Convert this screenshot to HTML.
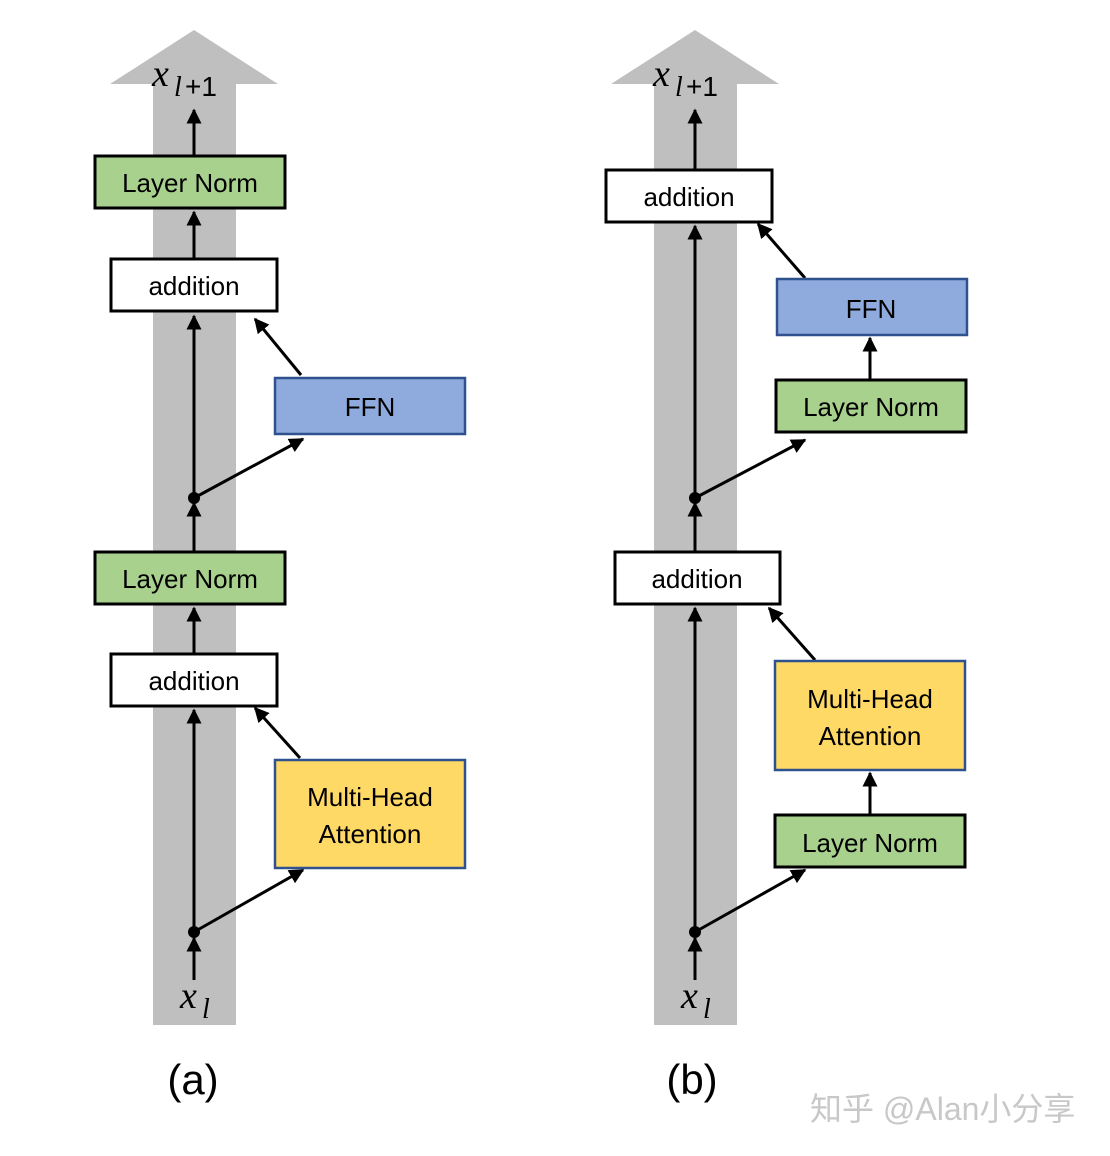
<!DOCTYPE html>
<html><head><meta charset="utf-8"><style>
html,body{margin:0;padding:0;background:#fff;}
svg{display:block;}
text{font-family:"Liberation Sans","Noto Sans CJK SC",sans-serif;}
.m{font-family:"Liberation Serif","DejaVu Serif",serif;font-style:italic;}
</style></head><body>
<svg width="1110" height="1156" viewBox="0 0 1110 1156" xmlns="http://www.w3.org/2000/svg">
<defs>
<marker id="ah" viewBox="0 0 10 10" refX="9" refY="5" markerWidth="5" markerHeight="5" markerUnits="strokeWidth" orient="auto">
<path d="M0,0 L10,5 L0,10 z" fill="#000"/></marker>
</defs>
<!-- panel a background arrow -->
<rect x="153" y="83" width="83" height="942" fill="#bfbfbf"/>
<polygon points="194,30 278,84 110,84" fill="#bfbfbf"/>
<!-- panel b -->
<rect x="654" y="83" width="83" height="942" fill="#bfbfbf"/>
<polygon points="695,30 779,84 611,84" fill="#bfbfbf"/>

<g stroke="#000" stroke-width="3" fill="none" marker-end="url(#ah)">
<!-- a -->
<line x1="194" y1="980" x2="194" y2="938"/>
<line x1="194" y1="932" x2="194" y2="710"/>
<line x1="194" y1="932" x2="303" y2="870"/>
<line x1="300" y1="758" x2="255" y2="708"/>
<line x1="194" y1="654" x2="194" y2="608"/>
<line x1="194" y1="552" x2="194" y2="503"/>
<line x1="194" y1="498" x2="194" y2="316"/>
<line x1="194" y1="498" x2="303" y2="439"/>
<line x1="301" y1="375" x2="255" y2="319"/>
<line x1="194" y1="258" x2="194" y2="212"/>
<line x1="194" y1="155" x2="194" y2="110"/>
<!-- b -->
<line x1="695" y1="980" x2="695" y2="938"/>
<line x1="695" y1="932" x2="695" y2="608"/>
<line x1="695" y1="932" x2="805" y2="870"/>
<line x1="870" y1="815" x2="870" y2="773"/>
<line x1="815" y1="660" x2="769" y2="608"/>
<line x1="695" y1="552" x2="695" y2="503"/>
<line x1="695" y1="498" x2="695" y2="226"/>
<line x1="695" y1="498" x2="805" y2="440"/>
<line x1="870" y1="380" x2="870" y2="338"/>
<line x1="805" y1="278" x2="758" y2="224"/>
<line x1="695" y1="170" x2="695" y2="110"/>
</g>
<circle cx="194" cy="932" r="6" fill="#000"/>
<circle cx="194" cy="498" r="6" fill="#000"/>
<circle cx="695" cy="932" r="6" fill="#000"/>
<circle cx="695" cy="498" r="6" fill="#000"/>

<!-- boxes a -->
<g font-size="26" text-anchor="middle" fill="#000">
<rect x="95" y="156" width="190" height="52" fill="#a9d18e" stroke="#000" stroke-width="3"/>
<text x="190" y="192">Layer Norm</text>
<rect x="111" y="259" width="166" height="52" fill="#fff" stroke="#000" stroke-width="3"/>
<text x="194" y="295">addition</text>
<rect x="275" y="378" width="190" height="56" fill="#8faadc" stroke="#2f528f" stroke-width="2.5"/>
<text x="370" y="416">FFN</text>
<rect x="95" y="552" width="190" height="52" fill="#a9d18e" stroke="#000" stroke-width="3"/>
<text x="190" y="588">Layer Norm</text>
<rect x="111" y="654" width="166" height="52" fill="#fff" stroke="#000" stroke-width="3"/>
<text x="194" y="690">addition</text>
<rect x="275" y="760" width="190" height="108" fill="#ffd966" stroke="#2f528f" stroke-width="2.5"/>
<text x="370" y="806">Multi-Head</text>
<text x="370" y="843">Attention</text>

<!-- boxes b -->
<rect x="606" y="170" width="166" height="52" fill="#fff" stroke="#000" stroke-width="3"/>
<text x="689" y="206">addition</text>
<rect x="777" y="279" width="190" height="56" fill="#8faadc" stroke="#2f528f" stroke-width="2.5"/>
<text x="871" y="318">FFN</text>
<rect x="776" y="380" width="190" height="52" fill="#a9d18e" stroke="#000" stroke-width="3"/>
<text x="871" y="416">Layer Norm</text>
<rect x="615" y="552" width="165" height="52" fill="#fff" stroke="#000" stroke-width="3"/>
<text x="697" y="588">addition</text>
<rect x="775" y="661" width="190" height="109" fill="#ffd966" stroke="#2f528f" stroke-width="2.5"/>
<text x="870" y="708">Multi-Head</text>
<text x="870" y="745">Attention</text>
<rect x="775" y="815" width="190" height="52" fill="#a9d18e" stroke="#000" stroke-width="3"/>
<text x="870" y="852">Layer Norm</text>
</g>

<!-- math labels -->
<text class="m" x="152" y="86" font-size="38">x</text>
<text class="m" x="174" y="96" font-size="28">l</text>
<text x="185" y="96" font-size="28" font-family="Liberation Serif,serif">+1</text>
<text class="m" x="653" y="86" font-size="38">x</text>
<text class="m" x="675" y="96" font-size="28">l</text>
<text x="686" y="96" font-size="28" font-family="Liberation Serif,serif">+1</text>
<text class="m" x="180" y="1008" font-size="38">x</text>
<text class="m" x="202" y="1018" font-size="28">l</text>
<text class="m" x="681" y="1008" font-size="38">x</text>
<text class="m" x="703" y="1018" font-size="28">l</text>

<text x="193" y="1094" font-size="42" text-anchor="middle">(a)</text>
<text x="692" y="1094" font-size="42" text-anchor="middle">(b)</text>
<text x="810" y="1120" font-size="32" fill="#c8c8c8">知乎 @Alan小分享</text>
</svg>
</body></html>
